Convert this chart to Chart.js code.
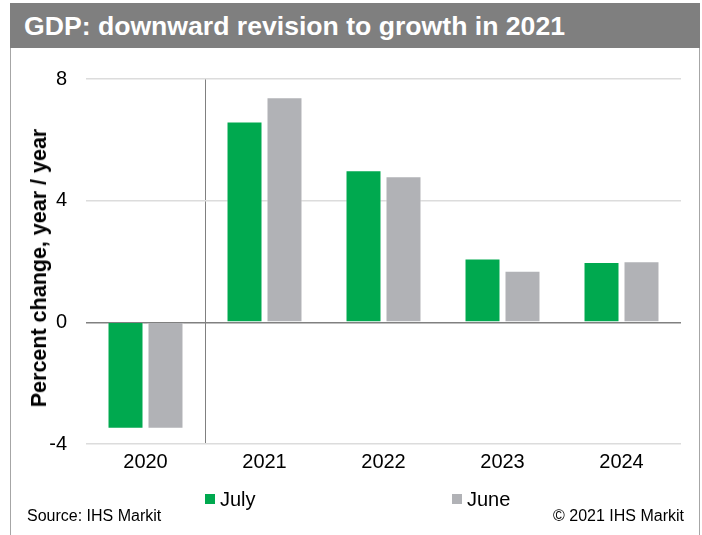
<!DOCTYPE html>
<html>
<head>
<meta charset="utf-8">
<script src="https://cdn.jsdelivr.net/npm/chart.js@4"></script>
<style>
  html, body { margin: 0; padding: 0; background: #fff; }
  #wrap { position: relative; width: 702px; height: 535px; overflow: hidden; font-family: "Liberation Sans", Arial, sans-serif; }
  #frame { position: absolute; left: 10px; top: 3px; width: 690px; height: 540px; border: 1.5px solid #a6a6a6; box-sizing: border-box; }
  #titlebar { position: absolute; left: 10px; top: 3px; width: 690px; height: 45px; background: #7f7f7f; }
  #title { position: absolute; left: 24px; top: 11px; color: #fff; font-weight: bold; font-size: 25px; line-height: 30px; white-space: nowrap; transform-origin: 0 0; }
  #ytitle { position: absolute; left: 38.5px; top: 268px; transform: translate(-50%, -50%) rotate(-90deg); font-weight: bold; font-size: 21.5px; line-height: 24px; white-space: nowrap; color: #000; }
  canvas { position: absolute; left: 0; top: 0; }
  .leg { position: absolute; font-size: 20px; line-height: 20px; color: #000; white-space: nowrap; }
  .sw { position: absolute; width: 10px; height: 10px; }
  .note { position: absolute; font-size: 16px; line-height: 16px; color: #000; white-space: nowrap; }
</style>
</head>
<body>
<div id="wrap">
  <div id="frame"></div>
  <div id="titlebar"></div>
  <div id="title">GDP: downward revision to growth in 2021</div>
  <canvas id="c" width="702" height="535"></canvas>
  <div id="ytitle">Percent change, year / year</div>
  <div class="sw" id="sw1" style="left:205px; top:494px;"></div>
  <div class="leg" style="left:220px; top:489px;">July</div>
  <div class="sw" id="sw2" style="left:452px; top:494px;"></div>
  <div class="leg" style="left:467px; top:489px;">June</div>
  <div class="note" style="left:27px; top:508px;">Source: IHS Markit</div>
  <div class="note" style="right:18px; top:508px;">© 2021 IHS Markit</div>
</div>
<script>
const categories = ["2020", "2021", "2022", "2023", "2024"];
const julyValues = [-3.5, 6.6, 5.0, 2.1, 1.98];
const juneValues = [-3.5, 7.4, 4.8, 1.7, 2.01];
const yTicks = [-4, 0, 4, 8];
const seriesNames = ["July", "June"];
const colors = ["#00a94f", "#b1b2b6"];

document.getElementById('sw1').style.background = colors[0];
document.getElementById('sw2').style.background = colors[1];

// fit the title width to the reference
const t = document.getElementById('title');
const w = t.getBoundingClientRect().width;
t.style.transform = 'scaleX(' + (541 / w) + ')';

new Chart(document.getElementById('c'), {
  type: 'bar',
  data: {
    labels: categories,
    datasets: [
      { label: seriesNames[0], data: julyValues, backgroundColor: colors[0], borderColor: 'rgba(255,255,255,0.45)', borderWidth: 1, categoryPercentage: 0.672, barPercentage: 0.9 },
      { label: seriesNames[1], data: juneValues, backgroundColor: colors[1], borderColor: 'rgba(255,255,255,0.45)', borderWidth: 1, categoryPercentage: 0.672, barPercentage: 0.9 }
    ]
  },
  options: {
    responsive: false,
    animation: false,
    layout: { padding: { left: 0, top: 79, right: 21, bottom: 0 } },
    plugins: { legend: { display: false }, tooltip: { enabled: false } },
    scales: {
      x: {
        afterFit: s => { s.height = 91; },
        grid: {
          offset: true,
          drawTicks: false,
          lineWidth: 1,
          color: ctx => (ctx.index === 1 ? '#808080' : 'rgba(0,0,0,0)')
        },
        border: { display: false },
        ticks: { padding: 6, color: '#000', font: { family: 'Liberation Sans', size: 20 } }
      },
      y: {
        min: -4, max: 8,
        afterFit: s => { s.width = 86; },
        afterBuildTicks: s => { s.ticks = yTicks.map(v => ({ value: v })); },
        grid: {
          drawTicks: false,
          lineWidth: 1.5,
          color: ctx => (ctx.tick && ctx.tick.value === 0 ? '#808080' : '#dcdcdc')
        },
        border: { display: false },
        ticks: { padding: 19, color: '#000', font: { family: 'Liberation Sans', size: 20 } }
      }
    }
  }
});
</script>
</body>
</html>
